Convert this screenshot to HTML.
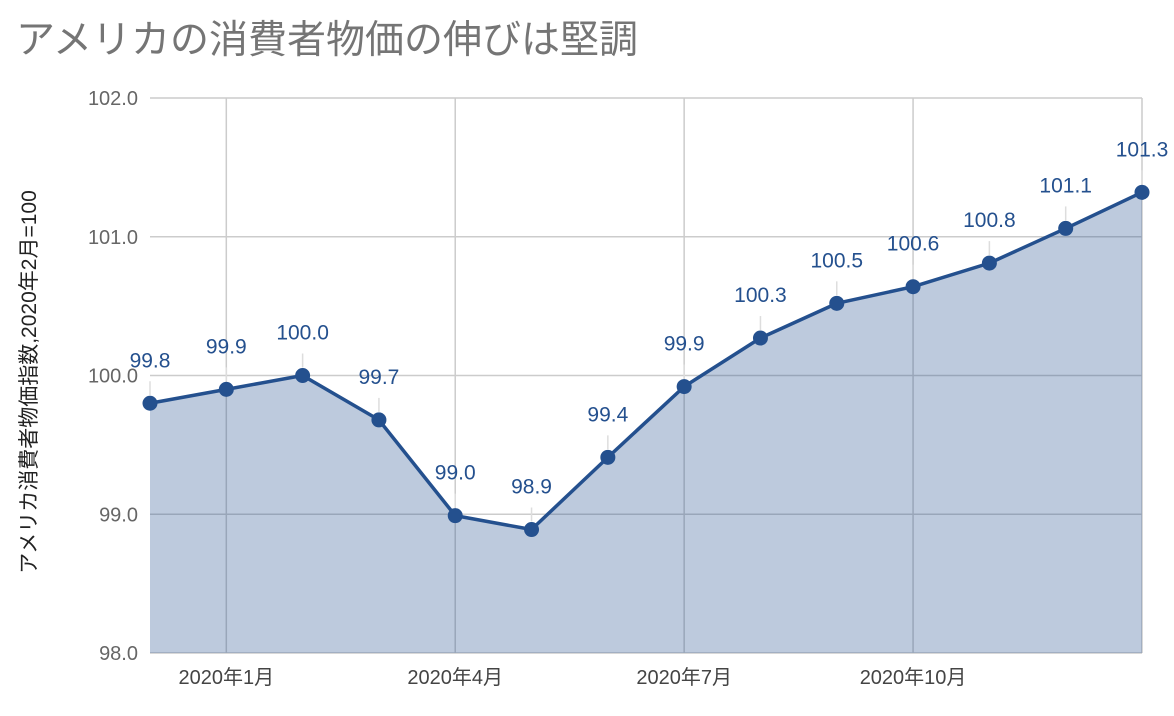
<!DOCTYPE html>
<html><head><meta charset="utf-8"><style>
body{margin:0;background:#fff;}
svg{display:block;font-family:"Liberation Sans","Noto Sans CJK JP",sans-serif;}
</style></head><body>
<svg id="chart" width="1174" height="716">
<text x="16" y="53" font-size="39" fill="#757575">アメリカの消費者物価の伸びは堅調</text>
<text transform="translate(36,382) rotate(-90)" text-anchor="middle" font-size="21" fill="#222">アメリカ消費者物価指数,2020年2月=100</text>
<g id="grid"></g><g id="area"></g><g id="marks"></g><g id="labels"></g>
</svg>
<script>
const categories=["2019-12","2020-01","2020-02","2020-03","2020-04","2020-05","2020-06","2020-07","2020-08","2020-09","2020-10","2020-11","2020-12","2021-01"];
const values=[99.8,99.9,100.0,99.68,98.99,98.89,99.41,99.92,100.27,100.52,100.64,100.81,101.06,101.32];
const valueLabels=["99.8","99.9","100.0","99.7","99.0","98.9","99.4","99.9","100.3","100.5","100.6","100.8","101.1","101.3"];
const yTicks=[98,99,100,101,102];
const yTickLabels=["98.0","99.0","100.0","101.0","102.0"];
const xTickIndex=[1,4,7,10];
const xTickLabels=["2020年1月","2020年4月","2020年7月","2020年10月"];
const L=150,R=1142,T=98,B=653,ymin=98,ymax=102;
const x=i=>L+(R-L)*i/(categories.length-1);
const y=v=>B-(v-ymin)/(ymax-ymin)*(B-T);
const NS="http://www.w3.org/2000/svg";
function mk(parent,tag,attrs){const e=document.createElementNS(NS,tag);for(const k in attrs)e.setAttribute(k,attrs[k]);document.getElementById(parent).appendChild(e);return e;}
yTicks.forEach((t,i)=>{
 const l=mk('grid','line',{x1:L,x2:R,y1:y(t),y2:y(t),stroke:'#cccccc','stroke-width':1.5});
 
 
 const tx=mk('grid','text',{x:138,y:y(t)+7,'text-anchor':'end','font-size':20,fill:'#666'});
 tx.textContent=yTickLabels[i];
 
 
});
xTickIndex.forEach((idx,i)=>{
 const l=mk('grid','line',{x1:x(idx),x2:x(idx),y1:T,y2:B,stroke:'#cccccc','stroke-width':1.5});
 
 
 const tx=mk('grid','text',{x:x(idx),y:684,'text-anchor':'middle','font-size':20,fill:'#444'});
 tx.textContent=xTickLabels[i];
 
 
});
const rl=mk('grid','line',{x1:R,x2:R,y1:T,y2:B,stroke:'#cccccc','stroke-width':1.5});


let pts=values.map((v,i)=>x(i)+','+y(v)).join(' ');
const area=mk('area','polygon',{points:x(0)+','+B+' '+pts+' '+x(values.length-1)+','+B,fill:'#24508e','fill-opacity':0.3});


const line=mk('marks','polyline',{points:pts,fill:'none',stroke:'#24508e','stroke-width':3.5,'stroke-linejoin':'round'});


values.forEach((v,i)=>{
 const ld=mk('labels','line',{x1:x(i),x2:x(i),y1:y(v)-8,y2:y(v)-22,stroke:'#dddddd','stroke-width':1.5});
 
 
 const c=mk('marks','circle',{cx:x(i),cy:y(v),r:7.5,fill:'#24508e'});
 
 
 const tx=mk('labels','text',{x:x(i),y:y(v)-36,'text-anchor':'middle','font-size':21,fill:'#24508e'});
 tx.textContent=valueLabels[i];
 
 
});
</script>
</body></html>
